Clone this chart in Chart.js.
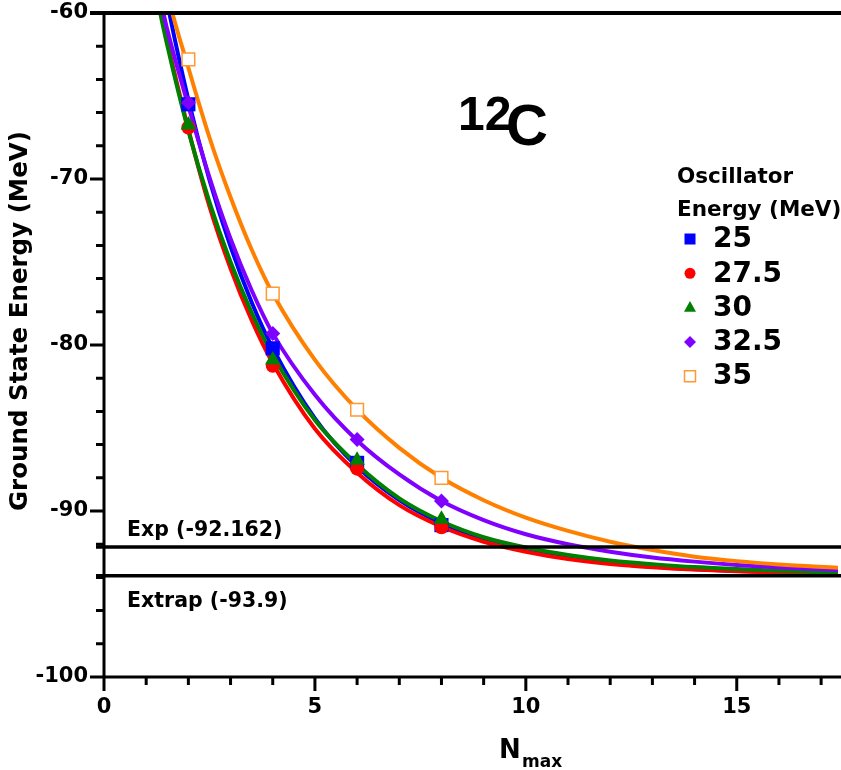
<!DOCTYPE html>
<html>
<head>
<meta charset="utf-8">
<script src="https://cdn.jsdelivr.net/npm/chart.js@4.4.0/dist/chart.umd.min.js"></script>
<style>
  html, body { margin: 0; padding: 0; background: #fff; }
  #wrap { width: 841px; height: 770px; }
</style>
</head>
<body>
<div id="wrap"><canvas id="chart" width="841" height="770"></canvas></div>
<script>
'use strict';

// calculated ground state energies (MeV) at each Nmax
const nmaxPoints = [2, 4, 6, 8];
const e25 = [-65.5, -80.2, -87.1, -90.85];
const e275 = [-66.9, -81.25, -87.45, -90.98];
const e30 = [-66.75, -80.9, -86.95, -90.5];
const e325 = [-65.4, -79.3, -85.7, -89.4];
const e35 = [-62.8, -76.9, -83.9, -88.0];

// fitted curves
const curveNmax = [1.2, 1.5, 2, 2.5, 3, 3.5, 4, 5, 6, 7, 8, 9, 10, 11, 12, 13, 14, 15, 16, 17.4];
const fit25 = [-55.36, -59.4, -65.22, -70.06, -74.07, -77.42, -80.19, -84.42, -87.33, -89.35, -90.74, -91.7, -92.37, -92.83, -93.14, -93.36, -93.51, -93.62, -93.69, -93.75];
const fit275 = [-57.93, -61.7, -67.0, -71.65, -75.39, -78.51, -81.1, -85.05, -87.7, -89.65, -90.95, -91.85, -92.45, -92.89, -93.19, -93.39, -93.53, -93.63, -93.7, -93.76];
const fit30 = [-58.42, -61.95, -67.1, -71.39, -75.0, -78.04, -80.6, -84.52, -87.2, -89.24, -90.62, -91.58, -92.2, -92.65, -92.98, -93.2, -93.38, -93.5, -93.6, -93.72];
const fit325 = [-57.6, -61.0, -65.6, -69.9, -73.6, -76.7, -79.3, -83.0, -85.75, -87.8, -89.4, -90.55, -91.4, -92.0, -92.45, -92.8, -93.05, -93.25, -93.4, -93.55];
const fit35 = [-55.0, -58.8, -63.3, -67.5, -71.1, -74.25, -76.9, -80.9, -83.9, -86.2, -88.0, -89.35, -90.4, -91.2, -91.85, -92.35, -92.75, -93.02, -93.22, -93.42];

const oscLabels = ['25', '27.5', '30', '32.5', '35'];
const expEnergy = -92.162;
const extrapEnergy = -93.9;

const colors = ['#0000ff', '#ff0000', '#008000', '#8000ff', '#ff8000'];
const markers = ['rect', 'circle', 'triangle', 'rectRot', 'rect'];
const markerRadius = [10, 7, 9, 7.5, 9];

const pointSeries = [e25, e275, e30, e325, e35];
const fitSeries = [fit25, fit275, fit30, fit325, fit35];

const FONT = '"DejaVu Sans", sans-serif';

function toXY(xs, ys) {
  return xs.map((x, i) => ({ x: x, y: ys[i] }));
}

const datasets = [];
fitSeries.forEach((fit, i) => {
  datasets.push({
    type: 'line',
    data: toXY(curveNmax, fit),
    borderColor: colors[i],
    borderWidth: 4,
    pointRadius: 0,
    cubicInterpolationMode: 'monotone',
    fill: false,
    order: 20 - i,
  });
});
pointSeries.forEach((pts, i) => {
  const open = i === 4;
  datasets.push({
    type: 'scatter',
    data: toXY(nmaxPoints, pts),
    pointStyle: markers[i],
    pointRadius: markerRadius[i],
    pointBackgroundColor: open ? '#ffffff' : colors[i],
    pointBorderColor: open ? '#ff9933' : colors[i],
    pointBorderWidth: open ? 1.5 : 0,
    showLine: false,
    order: 5 - i,
  });
});

function drawMarker(ctx, style, x, y, r, color, open) {
  ctx.save();
  ctx.fillStyle = open ? '#ffffff' : color;
  ctx.strokeStyle = open ? '#ff9933' : color;
  ctx.lineWidth = 1.5;
  ctx.beginPath();
  if (style === 'rect') {
    ctx.rect(x - r, y - r, 2 * r, 2 * r);
  } else if (style === 'circle') {
    ctx.arc(x, y, r, 0, Math.PI * 2);
  } else if (style === 'triangle') {
    ctx.moveTo(x, y - r * 1.1);
    ctx.lineTo(x + r, y + r * 0.7);
    ctx.lineTo(x - r, y + r * 0.7);
    ctx.closePath();
  } else if (style === 'rectRot') {
    ctx.moveTo(x, y - r);
    ctx.lineTo(x + r, y);
    ctx.lineTo(x, y + r);
    ctx.lineTo(x - r, y);
    ctx.closePath();
  }
  ctx.fill();
  if (open) ctx.stroke();
  ctx.restore();
}

function noPadding(scale) {
  scale.paddingTop = 0;
  scale.paddingBottom = 0;
  scale.paddingLeft = 0;
  scale.paddingRight = 0;
}

const decorPlugin = {
  id: 'decor',
  afterDraw(chart) {
    const ctx = chart.ctx;
    const xs = chart.scales.x;
    const ys = chart.scales.y;
    const area = chart.chartArea;
    const W = chart.width;
    ctx.save();
    ctx.strokeStyle = '#000';
    ctx.lineCap = 'butt';

    // axes (each runs past the other as its end tick)
    ctx.lineWidth = 3;
    ctx.beginPath();
    ctx.moveTo(area.left, area.top);
    ctx.lineTo(area.left, area.bottom + 14);
    ctx.moveTo(area.left - 14, area.bottom);
    ctx.lineTo(W, area.bottom);
    ctx.stroke();

    // x ticks
    ctx.beginPath();
    for (let n = 1; n <= 17; n++) {
      const px = xs.getPixelForValue(n);
      const len = n % 5 === 0 ? 14 : 8;
      ctx.moveTo(px, area.bottom);
      ctx.lineTo(px, area.bottom + len);
    }
    // y ticks
    for (let v = -98; v < -60; v += 2) {
      const py = ys.getPixelForValue(v);
      const len = v % 10 === 0 ? 14 : 8;
      ctx.moveTo(area.left, py);
      ctx.lineTo(area.left - len, py);
    }
    ctx.stroke();

    // top line at -60
    ctx.lineWidth = 4;
    ctx.beginPath();
    const yTop = ys.getPixelForValue(-60);
    ctx.moveTo(area.left - 14, yTop);
    ctx.lineTo(W, yTop);
    ctx.stroke();

    // experimental and extrapolated energies
    ctx.lineWidth = 3.5;
    ctx.beginPath();
    [expEnergy, extrapEnergy].forEach((e) => {
      const py = ys.getPixelForValue(e);
      ctx.moveTo(area.left - 8, py);
      ctx.lineTo(W, py);
    });
    ctx.stroke();

    ctx.fillStyle = '#000';
    ctx.textBaseline = 'alphabetic';
    ctx.textAlign = 'left';
    ctx.font = 'bold 20.5px ' + FONT;
    ctx.fillText('Exp (' + expEnergy + ')', 127, ys.getPixelForValue(expEnergy) - 11);
    ctx.fillText('Extrap (' + extrapEnergy + ')', 127, ys.getPixelForValue(extrapEnergy) + 31);

    // nucleus label
    ctx.font = 'bold 48px "Liberation Sans", Arial, sans-serif';
    ctx.fillText('12', 458, 130);
    ctx.font = 'bold 58px "Liberation Sans", Arial, sans-serif';
    ctx.fillText('C', 506, 145);

    // axis titles
    ctx.font = 'bold 26px ' + FONT;
    ctx.fillText('N', 499, 758);
    ctx.font = 'bold 17px ' + FONT;
    ctx.fillText('max', 522, 767);

    ctx.save();
    ctx.translate(21, 321);
    ctx.rotate(-Math.PI / 2);
    ctx.textAlign = 'center';
    ctx.textBaseline = 'middle';
    ctx.font = 'bold 24.5px ' + FONT;
    ctx.fillText('Ground State Energy (MeV)', 0, 0);
    ctx.restore();

    // legend
    ctx.font = 'bold 21.5px ' + FONT;
    ctx.fillText('Oscillator', 677, 183);
    ctx.fillText('Energy (MeV)', 677, 216);
    const legendSizes = [5.5, 5.5, 6, 6, 5.5];
    ctx.font = 'bold 28px ' + FONT;
    ctx.textBaseline = 'middle';
    oscLabels.forEach((lab, i) => {
      const ry = 239 + i * 34.3;
      drawMarker(ctx, markers[i], 690, ry, legendSizes[i], colors[i], i === 4);
      ctx.fillStyle = '#000';
      ctx.fillText(lab, 713, ry + 1);
    });
    ctx.restore();
  },
};

new Chart(document.getElementById('chart'), {
  data: { datasets: datasets },
  options: {
    responsive: false,
    animation: false,
    layout: { autoPadding: false, padding: { left: 0, top: 13, right: 3, bottom: 0 } },
    plugins: {
      legend: { display: false },
      tooltip: { enabled: false },
    },
    scales: {
      x: {
        type: 'linear',
        min: 0,
        max: 17.4,
        grid: { display: false, drawTicks: false },
        border: { display: false },
        ticks: {
          stepSize: 5,
          includeBounds: false,
          padding: 18,
          color: '#000',
          font: { family: FONT, weight: 'bold', size: 21 },
          maxRotation: 0,
        },
        afterFit(scale) {
          scale.height = 93;
          noPadding(scale);
        },
      },
      y: {
        type: 'linear',
        min: -100,
        max: -60,
        grid: { display: false, drawTicks: false },
        border: { display: false },
        ticks: {
          stepSize: 10,
          padding: 16,
          color: '#000',
          font: { family: FONT, weight: 'bold', size: 21 },
        },
        afterFit(scale) {
          scale.width = 104;
          noPadding(scale);
        },
      },
    },
  },
  plugins: [decorPlugin],
});
</script>
</body>
</html>
